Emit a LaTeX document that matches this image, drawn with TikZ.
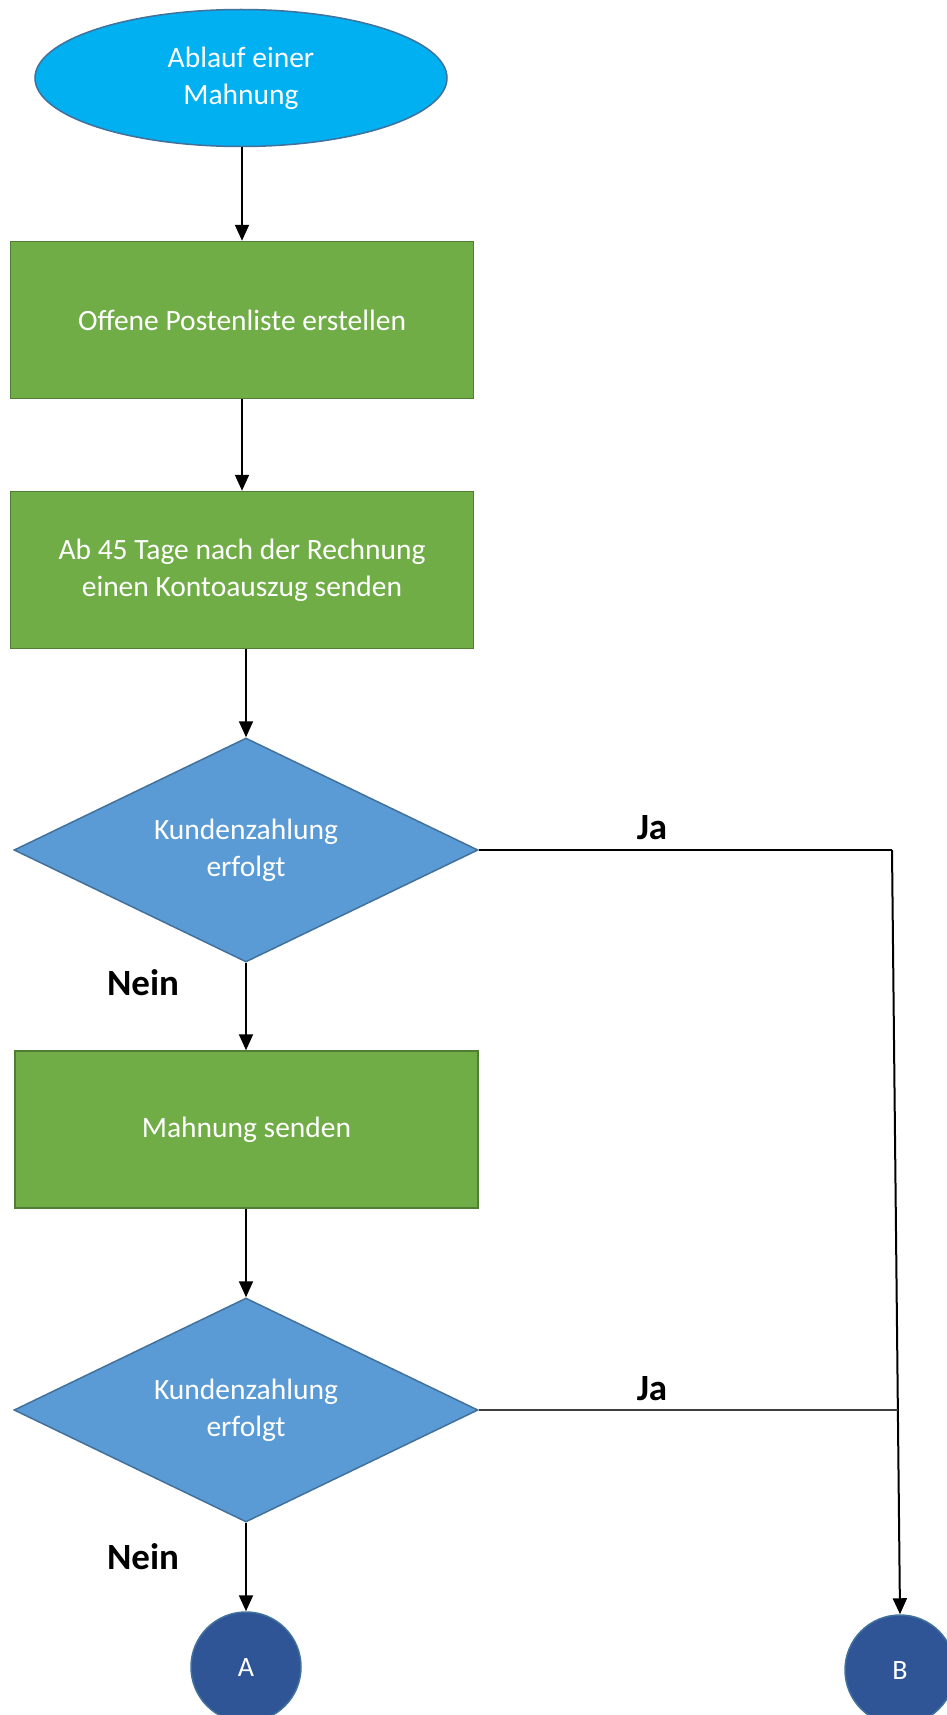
\documentclass[tikz,border=0pt]{standalone}
\usepackage{fontspec}
\setmainfont{Carlito}
\usetikzlibrary{shapes.geometric,arrows.meta,calc}
\definecolor{cyanfill}{HTML}{00B0F0}
\definecolor{blueedge}{HTML}{41719C}
\definecolor{greenfill}{HTML}{70AD47}
\definecolor{greenedge}{HTML}{507E32}
\definecolor{diafill}{HTML}{5B9BD5}
\definecolor{circfill}{HTML}{2F5597}
\begin{document}
\begin{tikzpicture}[x=1pt,y=-1pt,
  txt/.style={text=white,font=\fontsize{29.5}{37}\selectfont,align=center,inner sep=0pt},
  startnode/.style={txt,ellipse,fill=cyanfill,draw=blueedge,line width=1.5pt,minimum width=412pt,minimum height=137pt},
  procbox/.style={txt,rectangle,fill=greenfill,draw=greenedge,line width=1.5pt,minimum width=463pt,minimum height=157pt},
  decision/.style={txt,diamond,aspect=2.07,fill=diafill,draw=blueedge,line width=1.5pt,minimum width=464pt,minimum height=224pt},
  connector/.style={txt,font=\fontsize{28}{34}\selectfont,circle,fill=circfill,draw=blueedge,line width=1.5pt,minimum size=110pt},
  flow/.style={line width=2pt,-{Triangle[length=16pt,width=14pt]}},
  yesline/.style={line width=1.5pt},
  lbl/.style={font=\fontsize{37}{44}\selectfont\bfseries,inner sep=0pt}]
\useasboundingbox (0,0) rectangle (947,1715);
\node[startnode] (e) at (241,78) {Ablauf einer\\Mahnung};
\node[procbox] (r1) at (242,320) {Offene Postenliste erstellen};
\node[procbox] (r2) at (242,570) {Ab 45 Tage nach der Rechnung\\einen Kontoauszug senden};
\node[decision] (d1) at (246,850) {Kundenzahlung\\erfolgt};
\node[procbox] (r3) at (246.5,1129.5) {Mahnung senden};
\node[decision] (d2) at (246,1410) {Kundenzahlung\\erfolgt};
\node[connector] (A) at (246,1667) {A};
\node[connector] (B) at (900,1670) {B};
\coordinate (j1) at (892,850);
\coordinate (j2) at (898,1410);
\draw[flow] (e.south -| r1.north) -- (r1.north);
\draw[flow] (r1.south) -- (r2.north);
\draw[flow] (d1.north |- r2.south) -- (d1.north);
\draw[flow] (d1.south) -- (d1.south |- r3.north);
\draw[flow] (d2.north |- r3.south) -- (d2.north);
\draw[flow] (d2.south) -- (A.north);
\draw[yesline] (d1.east) -- (j1);
\draw[flow] (j1) -- (B.north);
\draw[yesline,black!75] (d2.east) -- (j2);
\node[lbl] (ja1) at (652,828) {Ja};
\node[lbl] (ja2) at (652,1389) {Ja};
\node[lbl] (nein1) at (143,983) {Nein};
\node[lbl] (nein2) at (143,1557) {Nein};
\end{tikzpicture}
\end{document}
